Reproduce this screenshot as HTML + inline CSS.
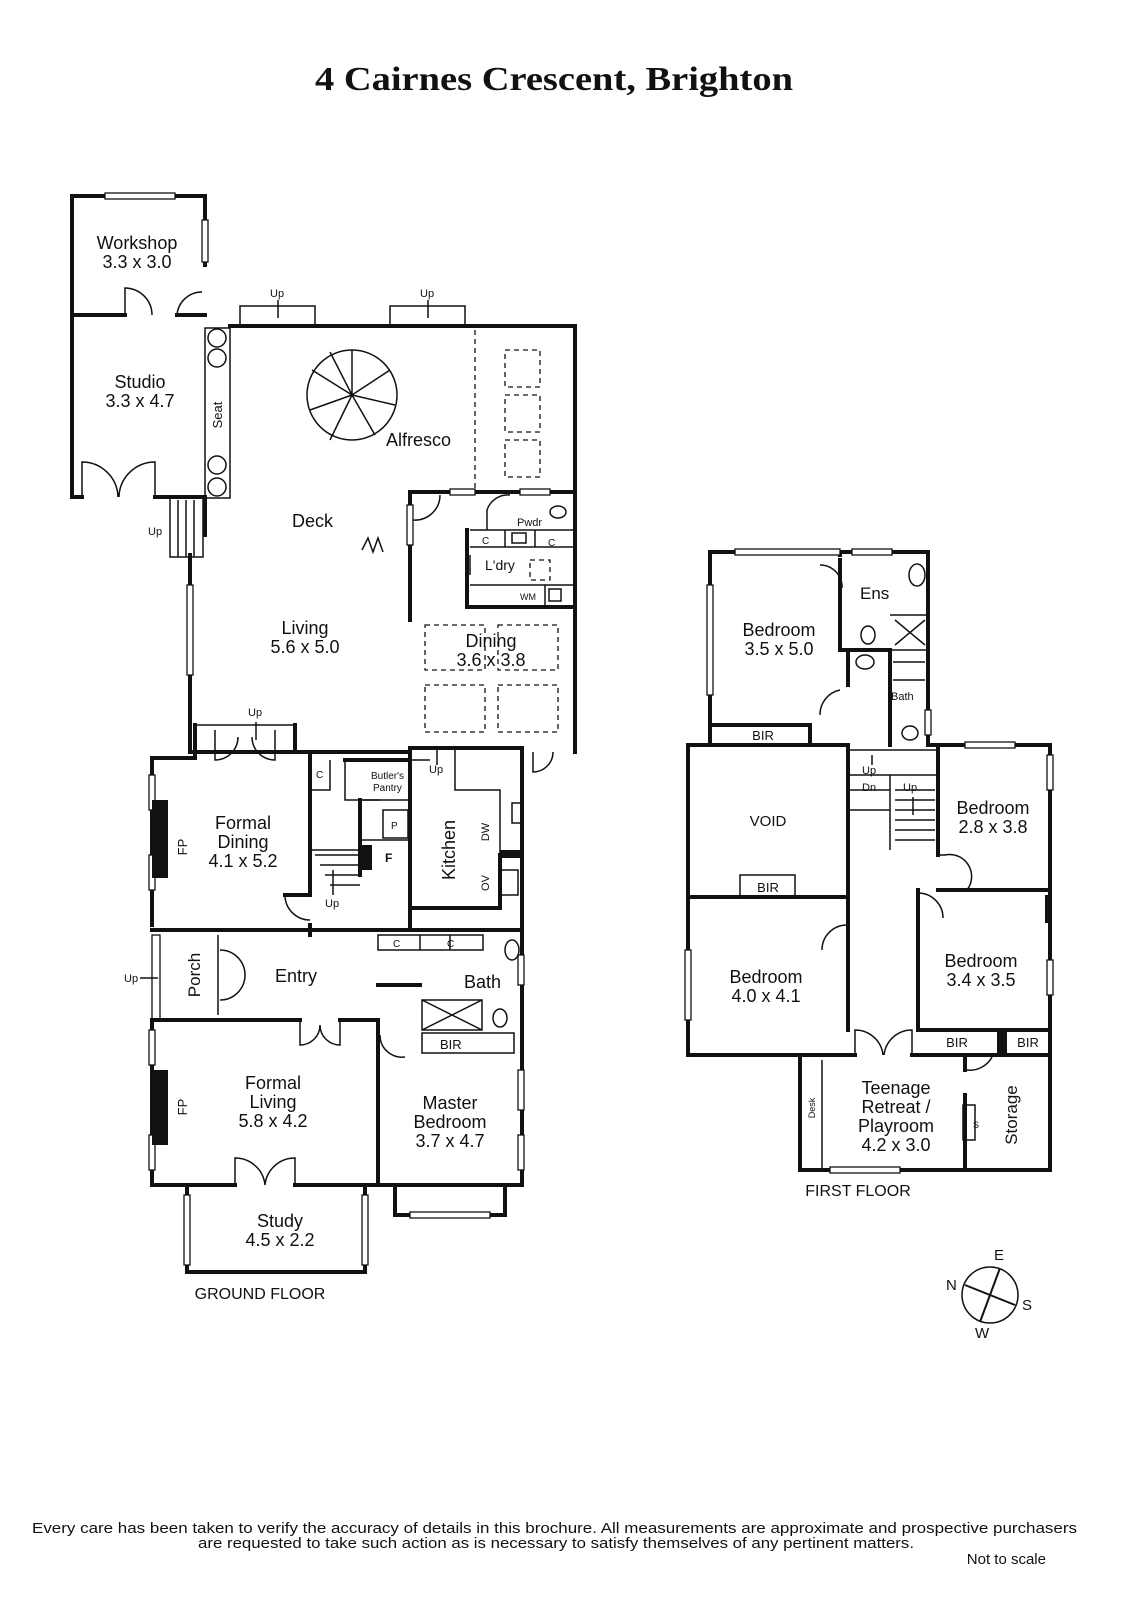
<!DOCTYPE html>
<html><head><meta charset="utf-8">
<style>
html,body{margin:0;padding:0;background:#fff;}
svg{display:block;}
text{font-family:"Liberation Sans",sans-serif;fill:#111;}
.w{stroke:#111;stroke-width:4;fill:none;stroke-linecap:square;}
.t{stroke:#111;stroke-width:1.5;fill:none;}
.d{stroke:#111;stroke-width:1.3;fill:none;stroke-dasharray:5,4;}
.win{fill:#fff;stroke:#111;stroke-width:1.3;}
</style></head>
<body>
<svg width="1131" height="1600" viewBox="0 0 1131 1600" xmlns="http://www.w3.org/2000/svg">
<text x="315" y="90" textLength="478" lengthAdjust="spacingAndGlyphs" style="font-family:'Liberation Serif',serif;font-weight:bold;font-size:34px">4 Cairnes Crescent, Brighton</text>

<!-- ===== GROUND FLOOR ===== -->
<path class="w" d="M72 497 V196 H205 V265 M177 315 H205 M72 315 H125"/>
<path class="w" d="M72 497 H82 M155 497 H205 V535"/>
<rect class="win" x="105" y="193" width="70" height="6"/>
<rect class="win" x="202" y="220" width="6" height="42"/>
<path class="t" d="M125 315 V288 A27 27 0 0 1 152 315 M177 315 A25 25 0 0 1 202 292"/>
<path class="t" d="M82 497 V462 A36 36 0 0 1 118 497 M155 497 V462 A36 36 0 0 0 119 497"/>
<rect class="t" x="205" y="328" width="25" height="170"/>
<text x="222" y="415" font-size="13" transform="rotate(-90 222 415)" text-anchor="middle">Seat</text>
<circle class="t" cx="217" cy="338" r="9"/><circle class="t" cx="217" cy="358" r="9"/>
<circle class="t" cx="217" cy="465" r="9"/><circle class="t" cx="217" cy="487" r="9"/>
<rect class="t" x="170" y="497" width="33" height="60"/>
<path class="t" d="M178 500 V557 M186 500 V557 M194 500 V557"/>
<text x="148" y="535" font-size="11">Up</text>
<path class="w" d="M230 326 H575 V752"/>
<path class="w" d="M190 555 V752 H310"/>
<rect class="win" x="187" y="585" width="6" height="90"/>
<rect class="t" x="240" y="306" width="75" height="20"/>
<rect class="t" x="390" y="306" width="75" height="20"/>
<text x="270" y="297" font-size="11">Up</text><text x="420" y="297" font-size="11">Up</text>
<path class="t" d="M278 300 V318 M428 300 V318"/>
<path class="d" d="M475 330 V495"/>
<rect class="d" x="505" y="350" width="35" height="37"/>
<rect class="d" x="505" y="395" width="35" height="37"/>
<rect class="d" x="505" y="440" width="35" height="37"/>
<circle class="t" cx="352" cy="395" r="45"/>
<path class="t" d="M352 395 L352 350 M352 395 L390 370 M352 395 L395 405 M352 395 L375 435 M352 395 L330 440 M352 395 L310 410 M352 395 L312 370 M352 395 L330 352"/>
<text x="386" y="446" font-size="18">Alfresco</text>
<text x="292" y="527" font-size="18">Deck</text>
<text x="305" y="634" font-size="18" text-anchor="middle">Living</text>
<text x="305" y="653" font-size="18" text-anchor="middle">5.6 x 5.0</text>
<path class="t" d="M362 550 L368 538 L373 552 L378 538 L383 552"/>
<path class="w" d="M410 492 V620 M410 492 H575 M467 530 V607 H575"/>
<rect class="win" x="407" y="505" width="6" height="40"/>
<rect class="win" x="450" y="489" width="25" height="6"/>
<rect class="win" x="520" y="489" width="30" height="6"/>
<path class="t" d="M413 520 A25 25 0 0 0 440 495"/>
<path class="t" d="M487 510 V530 M487 510 A22 22 0 0 1 510 495"/>
<path class="t" d="M470 530 H575 M470 547 H575 M505 530 V547 M535 530 V547"/>
<text x="517" y="526" font-size="11">Pwdr</text>
<text x="482" y="544" font-size="10">C</text><text x="548" y="546" font-size="10">C</text>
<rect class="t" x="512" y="533" width="14" height="10"/>
<ellipse class="t" cx="558" cy="512" rx="8" ry="6"/>
<text x="485" y="570" font-size="14">L'dry</text>
<rect class="d" x="530" y="560" width="20" height="20"/>
<path class="t" d="M470 585 H575 M545 585 V607"/>
<text x="520" y="600" font-size="9">WM</text>
<rect class="t" x="549" y="589" width="12" height="12"/>
<path class="t" d="M470 575 V555"/>
<text x="491" y="647" font-size="18" text-anchor="middle">Dining</text>
<text x="491" y="666" font-size="18" text-anchor="middle">3.6 x 3.8</text>
<rect class="d" x="425" y="625" width="60" height="45"/>
<rect class="d" x="498" y="625" width="60" height="45"/>
<rect class="d" x="425" y="685" width="60" height="47"/>
<rect class="d" x="498" y="685" width="60" height="47"/>
<path class="t" d="M533 752 V772 A20 20 0 0 0 553 752"/>
<path class="w" d="M152 925 V758 H195 V725 M295 725 V752 H410"/>
<path class="t" d="M195 725 H295"/>
<path class="t" d="M215 730 V760 A23 23 0 0 0 238 737 M275 730 V760 A23 23 0 0 1 252 737"/>
<text x="248" y="716" font-size="11">Up</text><path class="t" d="M256 722 V740"/>
<rect class="win" x="149" y="775" width="6" height="35"/>
<rect class="win" x="149" y="855" width="6" height="35"/>
<rect x="152" y="800" width="16" height="78" fill="#111"/>
<text x="187" y="847" font-size="13" transform="rotate(-90 187 847)" text-anchor="middle">FP</text>
<text x="243" y="829" font-size="18" text-anchor="middle">Formal</text>
<text x="243" y="848" font-size="18" text-anchor="middle">Dining</text>
<text x="243" y="867" font-size="18" text-anchor="middle">4.1 x 5.2</text>
<path class="w" d="M310 752 V895 H285 M152 930 H380 M310 925 V935"/>
<path class="t" d="M285 895 A25 25 0 0 0 310 920"/>
<path class="t" d="M310 790 H330 V760 M310 850 H360 M315 855 H360 M320 865 H360 M325 875 H360 M330 885 H360 M345 760 V800 H380"/>
<text x="316" y="778" font-size="10">C</text>
<rect class="t" x="360" y="800" width="50" height="40"/>
<rect class="t" x="383" y="810" width="25" height="28"/><text x="391" y="829" font-size="10">P</text>
<rect x="360" y="845" width="12" height="25" fill="#111"/>
<text x="385" y="862" font-size="12" font-weight="bold">F</text>
<path class="w" d="M360 800 V875 M345 760 H410 M410 748 V930"/>
<text x="371" y="779" font-size="10">Butler's</text><text x="373" y="791" font-size="10">Pantry</text>
<text x="325" y="907" font-size="11">Up</text><path class="t" d="M333 870 V895"/>
<path class="w" d="M410 748 H522 V930 M410 908 H500 V855 H522"/>
<path class="t" d="M455 748 V790 H500 V855 M410 760 H430"/>
<text x="429" y="773" font-size="11">Up</text><path class="t" d="M437 750 V765"/>
<text x="455" y="850" font-size="18" transform="rotate(-90 455 850)" text-anchor="middle">Kitchen</text>
<text x="489" y="832" font-size="11" transform="rotate(-90 489 832)" text-anchor="middle">DW</text>
<text x="489" y="883" font-size="11" transform="rotate(-90 489 883)" text-anchor="middle">OV</text>
<rect class="t" x="500" y="870" width="18" height="25"/>
<rect class="t" x="512" y="803" width="10" height="20"/>
<rect x="500" y="850" width="22" height="8" fill="#111"/>
<rect class="win" x="152" y="935" width="8" height="85"/>
<text x="124" y="982" font-size="11">Up</text><path class="t" d="M140 978 H158"/>
<text x="200" y="975" font-size="17" transform="rotate(-90 200 975)" text-anchor="middle">Porch</text>
<path class="t" d="M218 935 V1015 M220 950 A25 25 0 0 1 245 975 M220 1000 A25 25 0 0 0 245 975"/>
<text x="275" y="982" font-size="18">Entry</text>
<path class="w" d="M378 930 H522 V1055 M378 985 H420 M378 1020 V1185"/>
<rect class="t" x="378" y="935" width="105" height="15"/>
<path class="t" d="M420 935 V950 M450 935 V950"/>
<text x="393" y="947" font-size="10">C</text><text x="447" y="947" font-size="10">C</text>
<text x="464" y="988" font-size="18">Bath</text>
<rect class="t" x="422" y="1000" width="60" height="30"/>
<path class="t" d="M422 1000 L482 1030 M482 1000 L422 1030"/>
<rect class="t" x="422" y="1033" width="92" height="20"/>
<text x="440" y="1049" font-size="13">BIR</text>
<ellipse class="t" cx="512" cy="950" rx="7" ry="10"/><ellipse class="t" cx="500" cy="1018" rx="7" ry="9"/>
<rect class="win" x="518" y="955" width="6" height="30"/>
<path class="t" d="M380 1035 A22 22 0 0 0 405 1057"/>
<path class="w" d="M152 1020 H300 M340 1020 H378 M152 1020 V1185 H235 M295 1185 H522 V1055"/>
<path class="t" d="M300 1020 V1045 A20 20 0 0 0 320 1025 M340 1020 V1045 A20 20 0 0 1 320 1025"/>
<rect class="win" x="149" y="1030" width="6" height="35"/>
<rect class="win" x="149" y="1135" width="6" height="35"/>
<rect x="152" y="1070" width="16" height="75" fill="#111"/>
<text x="187" y="1107" font-size="13" transform="rotate(-90 187 1107)" text-anchor="middle">FP</text>
<text x="273" y="1089" font-size="18" text-anchor="middle">Formal</text>
<text x="273" y="1108" font-size="18" text-anchor="middle">Living</text>
<text x="273" y="1127" font-size="18" text-anchor="middle">5.8 x 4.2</text>
<path class="t" d="M235 1185 V1158 A30 30 0 0 1 265 1185 M295 1185 V1158 A30 30 0 0 0 265 1185"/>
<text x="450" y="1109" font-size="18" text-anchor="middle">Master</text>
<text x="450" y="1128" font-size="18" text-anchor="middle">Bedroom</text>
<text x="450" y="1147" font-size="18" text-anchor="middle">3.7 x 4.7</text>
<rect class="win" x="518" y="1070" width="6" height="40"/>
<rect class="win" x="518" y="1135" width="6" height="35"/>
<path class="w" d="M395 1185 V1215 H505 V1185"/>
<rect class="win" x="410" y="1212" width="80" height="6"/>
<path class="w" d="M187 1185 V1272 H365 V1185"/>
<rect class="win" x="184" y="1195" width="6" height="70"/>
<rect class="win" x="362" y="1195" width="6" height="70"/>
<text x="280" y="1227" font-size="18" text-anchor="middle">Study</text>
<text x="280" y="1246" font-size="18" text-anchor="middle">4.5 x 2.2</text>
<text x="260" y="1299" font-size="16" text-anchor="middle">GROUND FLOOR</text>
<text x="137" y="249" font-size="18" text-anchor="middle">Workshop</text>
<text x="137" y="268" font-size="18" text-anchor="middle">3.3 x 3.0</text>
<text x="140" y="388" font-size="18" text-anchor="middle">Studio</text>
<text x="140" y="407" font-size="18" text-anchor="middle">3.3 x 4.7</text>

<!-- ===== FIRST FLOOR ===== -->
<path class="w" d="M710 745 V552 H928 V745 M840 552 V555 M840 560 V595 M928 745 H1050 V1170 H800 V1055 H688 V745 H710"/>
<rect class="win" x="735" y="549" width="105" height="6"/>
<rect class="win" x="852" y="549" width="40" height="6"/>
<rect class="win" x="707" y="585" width="6" height="110"/>
<path class="t" d="M820 565 A22 22 0 0 1 842 588"/>
<path class="w" d="M840 595 V650 H890 V745 M848 650 V685"/>
<text x="779" y="636" font-size="18" text-anchor="middle">Bedroom</text>
<text x="779" y="655" font-size="18" text-anchor="middle">3.5 x 5.0</text>
<text x="860" y="599" font-size="17">Ens</text>
<ellipse class="t" cx="917" cy="575" rx="8" ry="11"/>
<ellipse class="t" cx="868" cy="635" rx="7" ry="9"/><ellipse class="t" cx="865" cy="662" rx="9" ry="7"/>
<path class="t" d="M890 615 L928 615 M890 650 L928 650 M895 620 L925 645 M925 620 L895 645 M893 662 L925 662 M893 680 L925 680"/>
<text x="891" y="700" font-size="11">Bath</text>
<rect class="win" x="925" y="710" width="6" height="25"/>
<ellipse class="t" cx="910" cy="733" rx="8" ry="7"/>
<path class="t" d="M840 690 A25 25 0 0 0 820 715"/>
<path class="w" d="M710 725 H810 V745 M688 745 H848 V897 H688 M848 850 V1030 M938 745 V855 M918 890 V1030"/>
<text x="763" y="740" font-size="13" text-anchor="middle">BIR</text>
<rect class="t" x="740" y="875" width="55" height="22"/>
<text x="768" y="892" font-size="13" text-anchor="middle">BIR</text>
<text x="768" y="826" font-size="15" text-anchor="middle">VOID</text>
<path class="t" d="M848 750 H938 M848 775 H938 M890 775 V850 M895 790 H935 M895 800 H935 M895 810 H935 M895 820 H935 M895 830 H935 M895 840 H935 M850 790 H890 M850 810 H890"/>
<text x="862" y="774" font-size="11">Up</text><path class="t" d="M872 755 V765"/>
<text x="862" y="791" font-size="11">Dn</text>
<text x="903" y="791" font-size="11">Up</text><path class="t" d="M913 797 V815"/>
<path class="t" d="M938 855 H945 A22 22 0 0 1 967 890 V890"/>
<path class="w" d="M938 890 H1050"/>
<rect class="win" x="965" y="742" width="50" height="6"/>
<rect class="win" x="1047" y="755" width="6" height="35"/>
<text x="993" y="814" font-size="18" text-anchor="middle">Bedroom</text>
<text x="993" y="833" font-size="18" text-anchor="middle">2.8 x 3.8</text>
<path class="t" d="M918 893 A25 25 0 0 1 943 918"/>
<rect x="1045" y="895" width="5" height="28" fill="#111"/>
<rect class="win" x="1047" y="960" width="6" height="35"/>
<text x="981" y="967" font-size="18" text-anchor="middle">Bedroom</text>
<text x="981" y="986" font-size="18" text-anchor="middle">3.4 x 3.5</text>
<path class="w" d="M918 1030 H1050 M918 1055 H1050"/>
<rect x="997" y="1030" width="10" height="25" fill="#111"/>
<text x="957" y="1047" font-size="13" text-anchor="middle">BIR</text>
<text x="1028" y="1047" font-size="13" text-anchor="middle">BIR</text>
<rect class="win" x="685" y="950" width="6" height="70"/>
<path class="t" d="M848 925 A25 25 0 0 0 822 950"/>
<text x="766" y="983" font-size="18" text-anchor="middle">Bedroom</text>
<text x="766" y="1002" font-size="18" text-anchor="middle">4.0 x 4.1</text>
<path class="w" d="M688 1055 H855 M912 1055 H918"/>
<path class="t" d="M855 1055 V1030 A28 28 0 0 1 883 1055 M912 1055 V1030 A28 28 0 0 0 884 1055"/>
<path class="w" d="M965 1170 V1095 M965 1055 V1070"/>
<path class="t" d="M967 1070 A25 25 0 0 0 992 1057"/>
<rect class="t" x="963" y="1105" width="12" height="35"/>
<text x="973" y="1128" font-size="9">S</text>
<text x="1017" y="1115" font-size="17" transform="rotate(-90 1017 1115)" text-anchor="middle">Storage</text>
<path class="t" d="M822 1060 V1168"/>
<text x="815" y="1108" font-size="9" transform="rotate(-90 815 1108)" text-anchor="middle">Desk</text>
<rect class="win" x="830" y="1167" width="70" height="6"/>
<text x="896" y="1094" font-size="18" text-anchor="middle">Teenage</text>
<text x="896" y="1113" font-size="18" text-anchor="middle">Retreat /</text>
<text x="896" y="1132" font-size="18" text-anchor="middle">Playroom</text>
<text x="896" y="1151" font-size="18" text-anchor="middle">4.2 x 3.0</text>
<text x="858" y="1196" font-size="16" text-anchor="middle">FIRST FLOOR</text>

<circle class="t" cx="990" cy="1295" r="28" stroke-width="2"/>
<path stroke="#111" stroke-width="2" d="M965 1285 L1015 1305 M1000 1268 L980 1322"/>
<text x="994" y="1260" font-size="15">E</text>
<text x="946" y="1290" font-size="15">N</text>
<text x="1022" y="1310" font-size="15">S</text>
<text x="975" y="1338" font-size="15">W</text>

<text x="32" y="1533" font-size="15" textLength="1045" lengthAdjust="spacingAndGlyphs">Every care has been taken to verify the accuracy of details in this brochure.  All measurements are approximate and prospective purchasers</text>
<text x="198" y="1548" font-size="15" textLength="716" lengthAdjust="spacingAndGlyphs">are requested to take such action as is necessary to satisfy themselves of any pertinent matters.</text>
<text x="1046" y="1564" font-size="15" text-anchor="end">Not to scale</text>
</svg>
</body></html>
